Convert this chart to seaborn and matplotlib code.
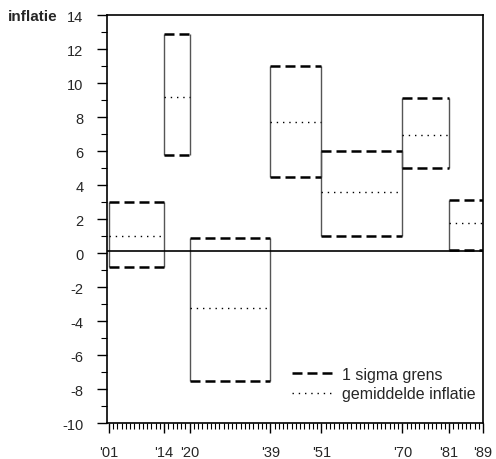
import matplotlib
matplotlib.use("Agg")
import matplotlib.pyplot as plt
import seaborn as sns
import pandas as pd
from matplotlib.ticker import MultipleLocator, FixedLocator
from matplotlib.lines import Line2D

# data
period_start = [1901, 1914, 1920, 1939, 1951, 1970, 1981]
period_end = [1914, 1920, 1939, 1951, 1970, 1981, 1989]
upper_sigma = [3.0, 12.9, 0.9, 11.0, 6.0, 9.1, 3.1]
lower_sigma = [-0.8, 5.8, -7.5, 4.5, 1.0, 5.0, 0.2]
mean_infl = [1.0, 9.2, -3.25, 7.7, 3.6, 6.95, 1.75]
xtick_years = [1901, 1914, 1920, 1939, 1951, 1970, 1981, 1989]
xtick_labels = ["'01", "'14", "'20", "'39", "'51", "'70", "'81", "'89"]

sns.set_style("ticks")
plt.rcParams['font.family'] = ['Liberation Sans', 'DejaVu Sans']
plt.rcParams['axes.unicode_minus'] = False

fig = plt.figure(figsize=(4.96, 4.6), dpi=100)
ax = fig.add_axes([0.216, 0.078, 0.758, 0.887])

rows_mean, rows_up, rows_lo = [], [], []
for i, (s, e) in enumerate(zip(period_start, period_end)):
    for x in (s, e):
        rows_mean.append({"jaar": x, "waarde": mean_infl[i], "p": i})
        rows_up.append({"jaar": x, "waarde": upper_sigma[i], "p": i})
        rows_lo.append({"jaar": x, "waarde": lower_sigma[i], "p": i})
df_mean = pd.DataFrame(rows_mean)
df_up = pd.DataFrame(rows_up)
df_lo = pd.DataFrame(rows_lo)

# sides of boxes
ax.vlines(period_start, lower_sigma, upper_sigma, color="#555555", lw=1.0, zorder=2)
ax.vlines(period_end, lower_sigma, upper_sigma, color="#555555", lw=1.0, zorder=2)

dash = (4, 2)
for d in (df_up, df_lo):
    sns.lineplot(data=d, x="jaar", y="waarde", units="p", estimator=None,
                 color="black", lw=1.8, ax=ax, legend=False, zorder=3)
for ln in ax.get_lines():
    ln.set_dashes(dash)
n_before = len(ax.get_lines())
sns.lineplot(data=df_mean, x="jaar", y="waarde", units="p", estimator=None,
             color="black", lw=1.0, ax=ax, legend=False, zorder=3)
for ln in ax.get_lines()[n_before:]:
    ln.set_dashes((1, 3.5))

ax.axhline(0.1, color="black", lw=1.2, zorder=4)

ax.set_xlim(1900.6, 1989)
ax.set_ylim(-10, 14)
ax.yaxis.set_major_locator(MultipleLocator(2))
ax.yaxis.set_minor_locator(MultipleLocator(1))
ax.xaxis.set_major_locator(FixedLocator(xtick_years))
ax.xaxis.set_minor_locator(MultipleLocator(1))
ax.set_xticklabels(xtick_labels)
ax.tick_params(axis="both", which="major", length=7, width=1, labelsize=10.5, color="black")
ax.tick_params(axis="both", which="minor", length=4, width=0.8, color="black")
ax.tick_params(axis="x", which="major", pad=9)
ax.tick_params(axis="y", which="major", pad=10)
ax.set_xlabel("")
ax.set_ylabel("")
for sp in ax.spines.values():
    sp.set_visible(True)
    sp.set_linewidth(1.2)
    sp.set_color("black")

fig.text(0.015, 0.962, "inflatie", fontsize=11, fontweight="bold", va="center", ha="left")

handles = [Line2D([], [], color="black", lw=1.8, dashes=dash),
           Line2D([], [], color="black", lw=1.0, dashes=(1, 3.5))]
ax.legend(handles, ["1 sigma grens", "gemiddelde inflatie"], loc="lower right",
          bbox_to_anchor=(1.005, 0.03), frameon=False, fontsize=11.5, handlelength=2.6,
          handletextpad=0.5, labelspacing=0.3, borderaxespad=0.2)

fig.savefig("out.png", dpi=100, facecolor="white")
